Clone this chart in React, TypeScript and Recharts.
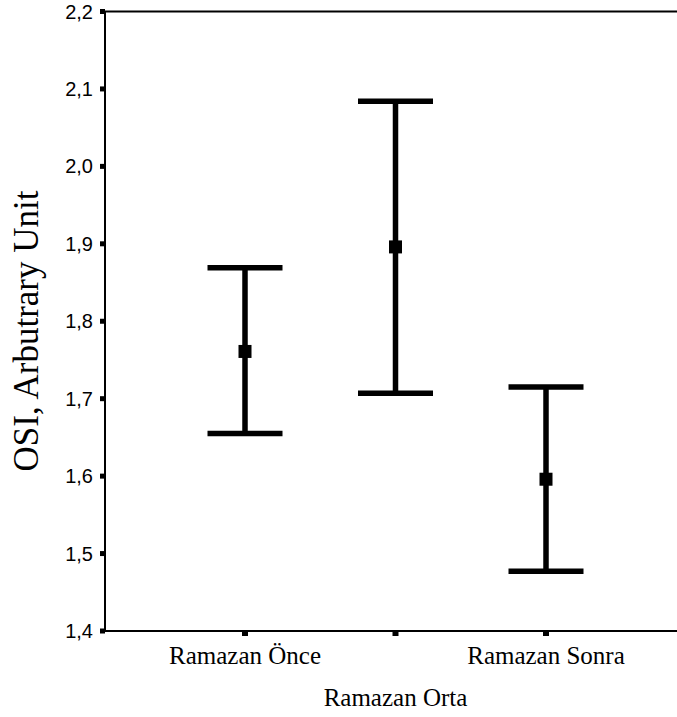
import React from "react"
import { ComposedChart, Line, ErrorBar, XAxis, YAxis, ReferenceLine, Label } from "recharts"

const categories = ["Ramazan Önce", "Ramazan Orta", "Ramazan Sonra"]
const means = [1.761, 1.896, 1.596]
const lowerCI = [1.655, 1.707, 1.477]
const upperCI = [1.869, 2.084, 1.715]
const yTicks = [1.4, 1.5, 1.6, 1.7, 1.8, 1.9, 2.0, 2.1, 2.2]

const data = categories.map((name, i) => ({
  name,
  mean: means[i],
  err: [means[i] - lowerCI[i], upperCI[i] - means[i]],
}))

const serif = "'Liberation Serif', 'Times New Roman', serif"
const sans = "'Liberation Sans', Arial, sans-serif"

// middle category label sits on a second row (staggered, like SPSS)
const XTick = (props: any) => {
  const { x, y, payload, index } = props
  return (
    <text
      x={x}
      y={y + (index === 1 ? 70 : 28)}
      textAnchor="middle"
      fill="#000"
      style={{ fontFamily: serif, fontSize: 25 }}
    >
      {payload.value}
    </text>
  )
}

const YTick = (props: any) => {
  const { x, y, payload } = props
  return (
    <text x={x} y={y} dy={7} textAnchor="end" fill="#000" style={{ fontFamily: sans, fontSize: 20 }}>
      {payload.value.toFixed(1).replace(".", ",")}
    </text>
  )
}

const SquareDot = (props: any) => {
  const { cx, cy } = props
  if (cx == null || cy == null) return null
  return <rect x={cx - 6.5} y={cy - 6.5} width={13} height={13} fill="#000" />
}

export default function App() {
  return (
    <div style={{ position: "absolute", left: 0, top: 0, background: "#fff" }}>
      <ComposedChart width={677} height={717} data={data} margin={{ top: 11.5, right: 0, left: 0, bottom: 0 }}>
        <XAxis
          dataKey="name"
          height={86}
          padding={{ left: 140, right: 131 }}
          axisLine={{ stroke: "#000", strokeWidth: 2 }}
          tickLine={{ stroke: "#000", strokeWidth: 6 }}
          tickSize={5}
          tickMargin={0}
          tick={<XTick />}
          interval={0}
        />
        <YAxis
          type="number"
          width={105}
          domain={[1.4, 2.2]}
          ticks={yTicks}
          allowDataOverflow
          axisLine={{ stroke: "#000", strokeWidth: 2 }}
          tickLine={{ stroke: "#000", strokeWidth: 5 }}
          tickSize={5}
          tickMargin={7}
          tick={<YTick />}
        >
          <Label
            content={() => (
              <text
                x={38}
                y={331}
                transform="rotate(-90, 38, 331)"
                textAnchor="middle"
                fill="#000"
                style={{ fontFamily: serif, fontSize: 35 }}
              >
                OSI, Arbutrary Unit
              </text>
            )}
          />
        </YAxis>
        <ReferenceLine y={2.2} stroke="#000" strokeWidth={2} />
        <Line
          dataKey="mean"
          stroke="none"
          dot={<SquareDot />}
          activeDot={false}
          isAnimationActive={false}
        >
          <ErrorBar dataKey="err" direction="y" width={37.5} stroke="#000" strokeWidth={5.5} />
        </Line>
      </ComposedChart>
    </div>
  )
}
